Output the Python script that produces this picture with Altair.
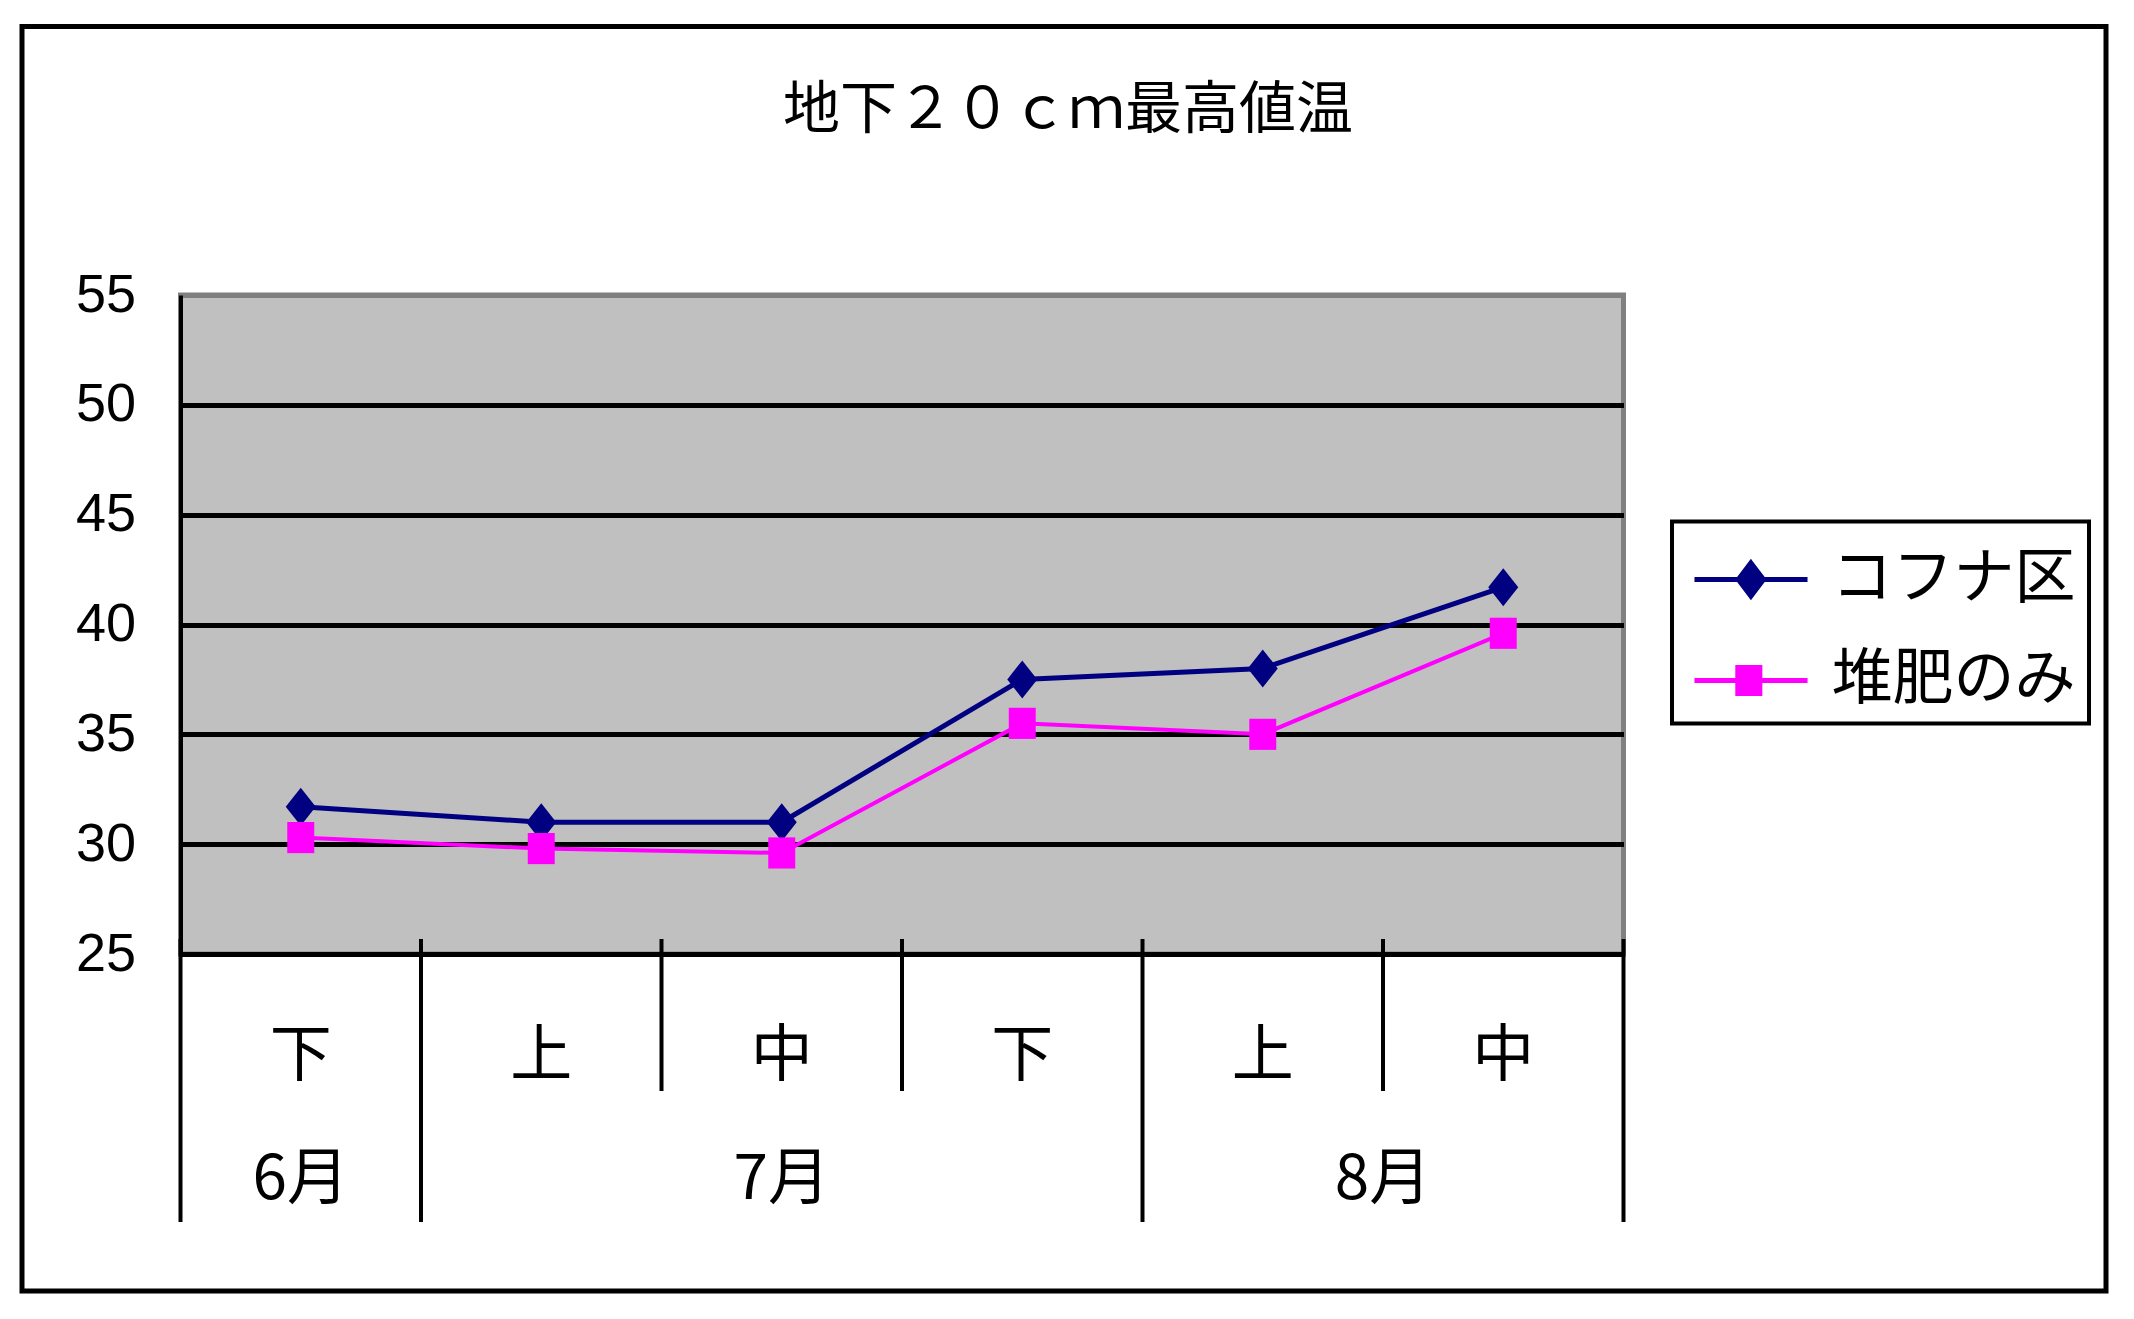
import altair as alt
import pandas as pd

TITLE = "地下２０ｃｍ最高値温"
PERIODS = ["下", "上", "中", "下", "上", "中"]
MONTHS = ["6月", "7月", "7月", "7月", "8月", "8月"]
SERIES = ["コフナ区", "堆肥のみ"]
KOFUNA = [31.7, 31.0, 31.0, 37.5, 38.0, 41.7]
TAIHI = [30.3, 29.8, 29.6, 35.5, 35.0, 39.6]
COLORS = ["#000080", "#FF00FF"]
Y_TICKS = [25, 30, 35, 40, 45, 50, 55]

W, H = 1443, 659
JP = "Noto Sans CJK JP"
NUM = "Liberation Sans"

rows = []
for s, vals in zip(SERIES, [KOFUNA, TAIHI]):
    for i, v in enumerate(vals):
        rows.append({"series": s, "pos": i + 0.5, "value": v})
df = pd.DataFrame(rows)

n = len(PERIODS)
cat_df = pd.DataFrame({"pos": [i + 0.5 for i in range(n)], "period": PERIODS})

bounds = []
for b in range(n + 1):
    is_long = b == 0 or b == n or MONTHS[b] != MONTHS[b - 1]
    bounds.append({"b": b, "long": is_long})
bound_df = pd.DataFrame(bounds)

month_rows = []
start = 0
for i in range(1, n + 1):
    if i == n or MONTHS[i] != MONTHS[start]:
        month_rows.append({"month": MONTHS[start], "pos": (start + i) / 2})
        start = i
month_df = pd.DataFrame(month_rows)

DIAMOND = "M0,-1L0.79,0L0,1L-0.79,0Z"
SQUARE = "M-0.71,-0.82H0.71V0.82H-0.71Z"
L_DIAMOND = "M-1.08,0H4.87M1.89,-0.87L2.55,0L1.89,0.87L1.23,0Z"
L_SQUARE = "M-1.08,0H4.87M1.2,-0.68H2.36V0.68H1.2Z"

xs = alt.Scale(domain=[0, n])
ys = alt.Scale(domain=[25, 55], nice=False, zero=False)
X = alt.X("pos:Q", scale=xs, axis=None)
Y = alt.Y(
    "value:Q",
    scale=ys,
    axis=alt.Axis(
        values=Y_TICKS,
        title=None,
        grid=True,
        gridColor=alt.condition("datum.value == 55", alt.value("#808080"), alt.value("black")),
        gridWidth=5,
        ticks=False,
        domainColor="black",
        domainWidth=4,
        labelFont=NUM,
        labelFontSize=54,
        labelColor="black",
        labelPadding=45,
    ),
)
is_first = f"datum.series == '{SERIES[0]}'"

base = alt.Chart(df)

leg = alt.Legend(
    title=" ",
    titleFontSize=1,
    titlePadding=14,
    orient="none",
    legendX=1491.5,
    legendY=226.5,
    labelFont=JP,
    labelFontSize=61,
    labelColor="black",
    labelOffset=86,
    labelLimit=500,
    padding=12.5,
    rowPadding=39,
    strokeColor="black",
    fillColor="white",
    symbolSize=1444,
    symbolStrokeWidth=5,
    symbolOpacity=1,
)
# invisible layer whose only job is to carry the legend (line + marker symbols)
legend_layer = base.mark_point(filled=True, size=1444, strokeWidth=5, opacity=0).encode(
    x=X,
    y=Y,
    fill=alt.Fill("series:N", scale=alt.Scale(domain=SERIES, range=COLORS), legend=leg),
    stroke=alt.Stroke("series:N", scale=alt.Scale(domain=SERIES, range=COLORS), legend=leg),
    shape=alt.Shape("series:N", scale=alt.Scale(domain=SERIES, range=[L_DIAMOND, L_SQUARE]), legend=leg),
)

lines = base.mark_line().encode(
    x=X,
    y=Y,
    color=alt.Color("series:N", scale=alt.Scale(domain=SERIES, range=COLORS), legend=None),
    strokeWidth=alt.condition(is_first, alt.value(5), alt.value(4)),
)

points = base.mark_point(filled=True, size=1444, opacity=1).encode(
    x=X,
    y=Y,
    color=alt.Color("series:N", scale=alt.Scale(domain=SERIES, range=COLORS), legend=None),
    shape=alt.condition(is_first, alt.value(DIAMOND), alt.value(SQUARE)),
)

long_rules = alt.Chart(bound_df).transform_filter("datum.long").mark_rule(color="black", strokeWidth=4).encode(
    x=alt.X("b:Q", scale=xs, axis=None), y=alt.value(H - 15), y2=alt.value(H + 268)
)
short_rules = alt.Chart(bound_df).transform_filter("!datum.long").mark_rule(color="black", strokeWidth=4).encode(
    x=alt.X("b:Q", scale=xs, axis=None), y=alt.value(H - 15), y2=alt.value(H + 137)
)

period_text = alt.Chart(cat_df).mark_text(font=JP, fontSize=62, color="black", baseline="middle").encode(
    x=alt.X("pos:Q", scale=xs, axis=None), y=alt.value(H + 103), text="period:N"
)
month_text = alt.Chart(month_df).mark_text(font=JP, fontSize=62, color="black", baseline="middle").encode(
    x=alt.X("pos:Q", scale=xs, axis=None), y=alt.value(H + 226), text="month:N"
)

title_text = alt.Chart(pd.DataFrame({"t": [TITLE]})).mark_text(
    font=JP, fontSize=57, color="black", baseline="middle", align="center"
).encode(x=alt.value(887.5), y=alt.value(-184), text="t:N")

frame = alt.Chart(pd.DataFrame({"k": [0]})).mark_rect(
    fillOpacity=0, stroke="black", strokeWidth=5
).encode(x=alt.value(-158.5), x2=alt.value(1925.5), y=alt.value(-268.5), y2=alt.value(996))

chart = alt.layer(
    frame, legend_layer, lines, points, long_rules, short_rules, period_text, month_text, title_text
).properties(
    width=W,
    height=H,
    autosize=alt.AutoSizeParams(type="none"),
    padding={"left": 172.5, "top": 287, "right": 500, "bottom": 350},
    background="white",
).configure_view(
    fill="#C0C0C0", stroke="#808080", strokeWidth=5
).configure_legend(
    strokeWidth=4
)

chart.save("out.html", embed_options={"renderer": "svg", "actions": False})
